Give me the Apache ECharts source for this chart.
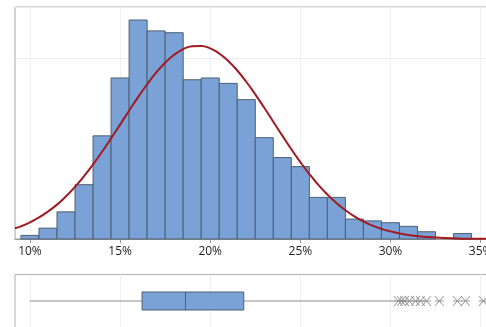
<!DOCTYPE html>
<html>
<head>
<meta charset="utf-8">
<script src="https://cdn.jsdelivr.net/npm/echarts@6/dist/echarts.min.js"></script>
<style>
html,body{margin:0;padding:0;background:#fff;}
#c{width:486px;height:327px;}
</style>
</head>
<body>
<div id="c"></div>
<script>
// ---- data ----
const binCenters = [10,11,12,13,14,15,16,17,18,19,20,21,22,23,24,25,26,27,28,29,30,31,32,33,34];
const binCounts  = [2,6,15,30,57,89,121,115,114,88,89,86,77,56,45,40,23,23,11,10,9,7,4,0,3];
const fitX = [9.17,9.5,10,10.5,11,11.5,12,12.5,13,13.5,14,14.5,15,15.5,16,16.5,17,17.5,18,18.5,19,19.5,20,20.5,21,21.5,22,22.5,23,23.5,24,24.5,25,25.5,26,26.5,27,27.5,28,28.5,29,29.5,30,30.5,31,31.5,32,33,34,35,36];
const fitY = [5.9,7.0,9.2,11.9,15.2,19.0,23.6,28.8,34.7,41.2,48.2,55.6,63.2,70.9,78.4,85.5,91.9,97.4,101.8,104.9,106.5,106.7,105.3,102.5,98.4,93.1,86.9,79.9,72.5,64.8,57.1,49.6,42.5,35.9,29.9,24.6,19.9,15.9,12.5,9.7,7.4,5.6,4.2,3.1,2.2,1.6,1.1,0.5,0.2,0.1,0.0];
const boxStats = [10.0, 16.22, 18.63, 21.86, 30.3]; // min, Q1, median, Q3, upper whisker
const outliers = [30.44,30.61,30.78,31.05,31.39,31.66,32.0,32.71,33.71,34.16,35.15];
const tickLabels = [10,15,20,25,30,35];

const xMin = 9.17, xMax = 36;
const gridW = (xMax - xMin) * 18.025;
const barFill = '#7ba2d6', barStroke = '#4e5f72';

const chart = echarts.init(document.getElementById('c'), null, {renderer:'canvas'});
const xAxisBase = (gridIndex, showLabels) => ({
  type:'value', gridIndex, min:xMin, max:xMax,
  axisLine:{show:showLabels, lineStyle:{color:'#9a9a9a', width:1}},
  axisTick:{show:showLabels, length:4, lineStyle:{color:'#9a9a9a'}, customValues:tickLabels},
  axisLabel:{show:showLabels, customValues:tickLabels, margin:7, color:'#1e1e1e', fontSize:12,
             fontFamily:'Open Sans', formatter:v=>v+'%'},
  splitLine:{show:true, lineStyle:{color:'#f0f0f0', width:1}}
});

chart.setOption({
  animation:false,
  grid:[
    {left:15, top:7, width:gridW, height:232, show:true, borderColor:'#a6a6a6', borderWidth:1,
     containLabel:false, outerBoundsMode:'none'},
    {left:15, top:274.5, width:gridW, height:53, show:true, borderColor:'#b0b0b0', borderWidth:1,
     containLabel:false, outerBoundsMode:'none'}
  ],
  xAxis:[xAxisBase(0,true), xAxisBase(1,false)],
  yAxis:[
    {type:'value', gridIndex:0, min:0, max:128.2, interval:100,
     axisLine:{show:false}, axisTick:{show:false}, axisLabel:{show:false},
     splitLine:{show:true, lineStyle:{color:'#ececec'}}},
    {type:'value', gridIndex:1, min:0, max:1,
     axisLine:{show:false}, axisTick:{show:false}, axisLabel:{show:false}, splitLine:{show:false}}
  ],
  series:[
    {
      type:'custom', xAxisIndex:0, yAxisIndex:0,
      data: binCenters.map((c,i)=>[c, binCounts[i]]),
      renderItem:(params, api)=>{
        const x = api.value(0), v = api.value(1);
        if (!v) return null;
        const p0 = api.coord([x-0.5, v]);
        const p1 = api.coord([x+0.5, 0]);
        return {type:'rect', shape:{x:p0[0], y:p0[1], width:p1[0]-p0[0], height:p1[1]-p0[1]},
                style:{fill:barFill, stroke:barStroke, lineWidth:1}};
      },
      z:2
    },
    {
      type:'line', xAxisIndex:0, yAxisIndex:0, smooth:true, symbol:'none',
      data: fitX.map((x,i)=>[x, fitY[i]]),
      lineStyle:{color:'#a11a22', width:2}, z:3
    },
    {
      type:'custom', xAxisIndex:1, yAxisIndex:1,
      data:[boxStats],
      renderItem:(params, api)=>{
        const mn = api.value(0), q1 = api.value(1), md = api.value(2), q3 = api.value(3), mx = api.value(4);
        const pMin = api.coord([mn, 0.5]), pQ1 = api.coord([q1, 0.5]), pMd = api.coord([md, 0.5]),
              pQ3 = api.coord([q3, 0.5]), pMax = api.coord([mx, 0.5]);
        const cy = pQ1[1], h = 18;
        return {type:'group', children:[
          {type:'line', shape:{x1:pMin[0], y1:cy, x2:pQ1[0], y2:cy}, style:{stroke:'#8c8c8c', lineWidth:1}},
          {type:'line', shape:{x1:pQ3[0], y1:cy, x2:pMax[0], y2:cy}, style:{stroke:'#8c8c8c', lineWidth:1}},
          {type:'rect', shape:{x:pQ1[0], y:cy-h/2, width:pQ3[0]-pQ1[0], height:h}, style:{fill:barFill, stroke:barStroke, lineWidth:1}},
          {type:'line', shape:{x1:pMd[0], y1:cy-h/2, x2:pMd[0], y2:cy+h/2}, style:{stroke:barStroke, lineWidth:1}}
        ]};
      }
    },
    {
      type:'scatter', xAxisIndex:1, yAxisIndex:1,
      data: outliers.map(v=>[v, 0.5]),
      symbol:'path://M0,0L10,10M10,0L0,10M0,5L10,5',
      symbolSize:[9,10],
      itemStyle:{color:'rgba(0,0,0,0)', borderColor:'#808080', borderWidth:1}
    }
  ]
});
</script>
</body>
</html>
